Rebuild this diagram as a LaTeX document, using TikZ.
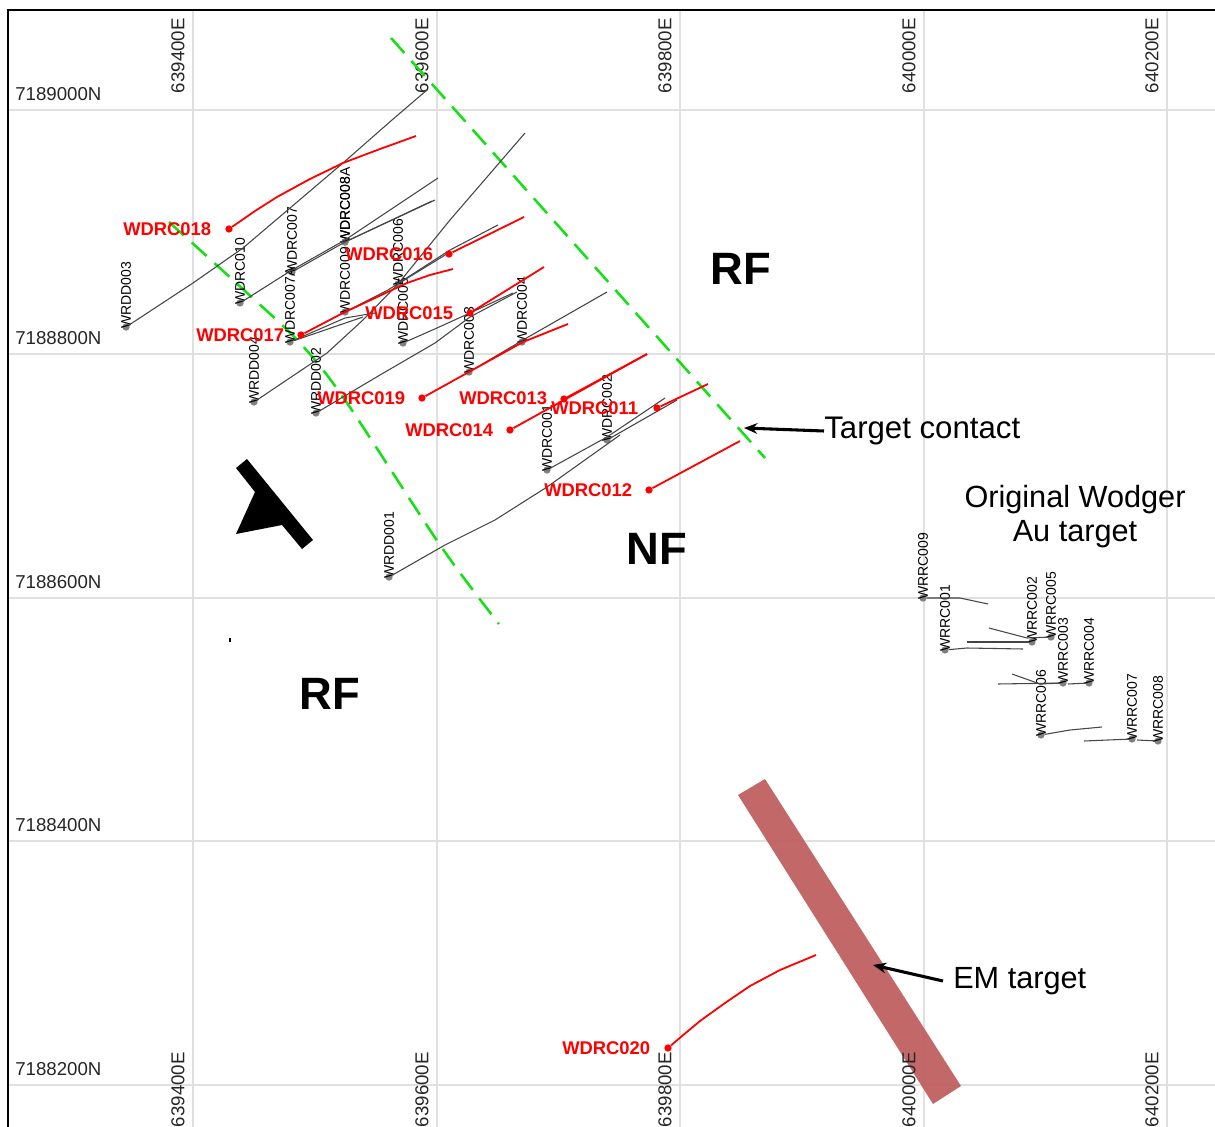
\documentclass[tikz,border=0pt]{standalone}
\usetikzlibrary{arrows.meta}
\usepackage{fontspec}
\setmainfont{Liberation Sans}
\definecolor{gridgrey}{RGB}{224,224,224}
\definecolor{faultgreen}{RGB}{20,225,20}
\definecolor{emred}{RGB}{190,92,92}
\definecolor{holegrey}{RGB}{70,70,70}
\tikzset{
	gridline/.style={gridgrey,line width=1.9pt},
	coordname/.style={inner sep=0pt,text=black!85,font=\fontsize{14}{14}\selectfont},
	holeline/.style={holegrey,line width=0.8pt,line join=round},
	redline/.style={red,line width=1.35pt,line join=round},
	holedot/.style={circle,fill=gray,inner sep=0pt,minimum size=5.5pt},
	reddot/.style={circle,fill=red,inner sep=0pt,minimum size=5.5pt},
	holename/.style={rotate=90,anchor=west,inner sep=0pt,text=black,font=\fontsize{10.5}{10}\selectfont},
	redname/.style={anchor=west,inner sep=0pt,text=red,font=\bfseries\fontsize{13.8}{14}\selectfont},
	bigname/.style={inner sep=0pt,font=\bfseries\fontsize{34}{34}\selectfont},
	notename/.style={inner sep=0pt,font=\fontsize{23}{25.5}\selectfont,align=center},
	faultline/.style={faultgreen,line width=1.9pt,dash pattern=on 15pt off 8pt},
	pointer/.style={-{Stealth[length=10pt,width=8pt]},black,line width=2.3pt}
}
\begin{document}
\begin{tikzpicture}[x=0.75pt,y=-0.75pt]
	\useasboundingbox (0,0) rectangle (1215,1127);
	\fill[white] (0,0) rectangle (1215,1127);
	% grid
	\foreach \gx in {193,437,680,924,1167}
		\draw[gridline] (\gx,10)--(\gx,1127);
	\foreach \gy in {110,354,598,841,1085}
		\draw[gridline] (8,\gy)--(1215,\gy);
	% EM target
	\fill[emred,opacity=0.92] (738,795)--(765,779)--(961,1086)--(933,1104)--cycle;
	\draw[black,line width=1.5pt] (8,1127)--(8,10)--(1215,10);
	\foreach \gy/\gn in {94/7189000N,338/7188800N,582/7188600N,825/7188400N,1069/7188200N}
		\node[coordname,anchor=west] (n\gn) at (15,\gy) {\gn};
	\foreach \gx/\gn in {178/639400E,422/639600E,665/639800E,909/640000E,1152/640200E}{
		\node[coordname,rotate=90,anchor=east] (top\gn) at (\gx,18) {\gn};
		\node[coordname,rotate=90,anchor=east] (bot\gn) at (\gx,1052) {\gn};
	}
	% target contact
	\draw[faultline] (391,38)--(765,458);
	\draw[faultline] plot[smooth] coordinates {(169,222) (245,291) (300,343) (345,400) (440,545) (499,624)};
	% holes
	\foreach \hn/\hx/\hy/\hlab in {rdd3/126/327/WRDD003,rc10/240/303/WDRC010,rc7/292/272/WDRC007,rc7a/290/342/WDRC007A,%
		rc8/345/242/WDRC008,rc8a/345/242/WDRC008A,rc9/345/312/WDRC009,rc6/398/284/WDRC006,rc5/403/343/WDRC005,%
		rc3/469/372/WDRC003,rc4/522/342/WDRC004,rc1/547/470/WDRC001,rc2/607/440/WDRC002,%
		rdd4/254/402/WRDD004,rdd2/316/413/WRDD002,rdd1/389/577/WRDD001,%
		rr9/923/598/WRRC009,rr1/945/650/WRRC001,rr2/1032/642/WRRC002,rr5/1051/637/WRRC005,rr3/1063/683/WRRC003,%
		rr4/1089/683/WRRC004,rr6/1041/735/WRRC006,rr7/1132/739/WRRC007,rr8/1158/741/WRRC008}{
		\node[holedot] (\hn) at (\hx,\hy) {};
		\node[holename] (\hn name) at (\hx,\hy+2) {\hlab};
	}
	\draw[holeline] (rdd3)--(193,283)--(243,248)--(343,163)--(392,120)--(427,90);
	\draw[holeline] (rc10)--(292,270)--(345,240)--(438,178);
	\draw[holeline] (rc7)--(345,242)--(435,200);
	\draw[holeline] (rc8)--(432,201);
	\draw[holeline] (rc7a)--(363,317);
	\draw[holeline] (rc7a)--(345,318)--(375,313);
	\draw[holeline] (rc9)--(388,290)--(450,250)--(498,225);
	\draw[holeline] (rc6)--(450,220)--(525,133);
	\draw[holeline] (rc6)--(450,252);
	\draw[holeline] (rdd4)--(327,353)--(363,320)--(398,284);
	\draw[holeline] (rdd2)--(380,375)--(435,343)--(470,317)--(517,292);
	\draw[holeline] (rc5)--(437,328)--(470,313)--(513,293);
	\draw[holeline] (rc3)--(523,340)--(607,292);
	\draw[holeline] (rc1)--(607,437)--(665,398);
	\draw[holeline] (rc2)--(677,400);
	\draw[holeline] (rdd1)--(445,545)--(495,520)--(547,487)--(620,435);
	\draw[holeline] (rr9)--(960,598)--(988,604);
	\draw[holeline] (rr1)--(967,648)--(1023,649);
	\draw[holeline] (rr2)--(967,642);
	\draw[holeline] (rr5)--(1027,638)--(989,628);
	\draw[holeline] (rr3)--(998,684);
	\draw[holeline] (rr3)--(1040,684)--(1012,674);
	\draw[holeline] (rr4)--(1068,684);
	\draw[holeline] (rr6)--(1070,730)--(1102,727);
	\draw[holeline] (rr7)--(1084,741);
	\draw[holeline] (rr8)--(1137,740);
	% new holes
	\foreach \hn/\hx/\hy/\lx/\ly/\hlab in {d18/229/229/123/229/WDRC018,d17/301/335/196/335/WDRC017,d16/449/254/345/254/WDRC016,%
		d15/470/313/365/313/WDRC015,d19/422/398/317/398/WDRC019,d13/564/399/459/398/WDRC013,d14/510/430/405/430/WDRC014,%
		d11/657/408/551/408/WDRC011,d12/649/490/544/490/WDRC012,d20/668/1048/562/1048/WDRC020}{
		\node[reddot] (\hn) at (\hx,\hy) {};
		\node[redname] (\hn name) at (\lx,\ly) {\hlab};
	}
	\draw[redline] (d18)--(255,211)--(277,197)--(310,179)--(343,163)--(380,149)--(416,136);
	\draw[redline] (d17)--(343,313)--(407,283)--(430,275)--(453,269);
	\draw[redline] (d16)--(524,217);
	\draw[redline] (d15)--(544,267);
	\draw[redline] (d19)--(523,342)--(568,324);
	\draw[redline] (d13)--(647,354);
	\draw[redline] (d14)--(647,354);
	\draw[redline] (d11)--(708,384);
	\draw[redline] (d12)--(740,441);
	\draw[redline] (d20)--(682,1036)--(700,1021)--(725,1003)--(750,986)--(780,970)--(816,955);
	% north arrow
	\fill[black] (236,468)--(247,459)--(313,540)--(302,549)--(282,525)--(236,534)--(255,492)--cycle;
	\fill[black] (229,638) rectangle (231,642);
	% texts
	\node[bigname] (rfa) at (741,269) {RF};
	\node[bigname] (nf) at (657,549) {NF};
	\node[bigname] (rfb) at (330,694) {RF};
	\node[notename,anchor=west,font=\fontsize{23.4}{27}\selectfont] (contact) at (824,431) {Target contact};
	\node[notename] (wodger) at (1075,517) {Original Wodger\\Au target};
	\node[notename,anchor=west] (emtarget) at (953,981) {EM target};
	\coordinate (contacttip) at (744,428);
	\coordinate (emtip) at (873,965);
	\draw[pointer] (contact.west)--(contacttip);
	\draw[pointer] (emtarget.west)++(-10,0)--(emtip);
\end{tikzpicture}
\end{document}
